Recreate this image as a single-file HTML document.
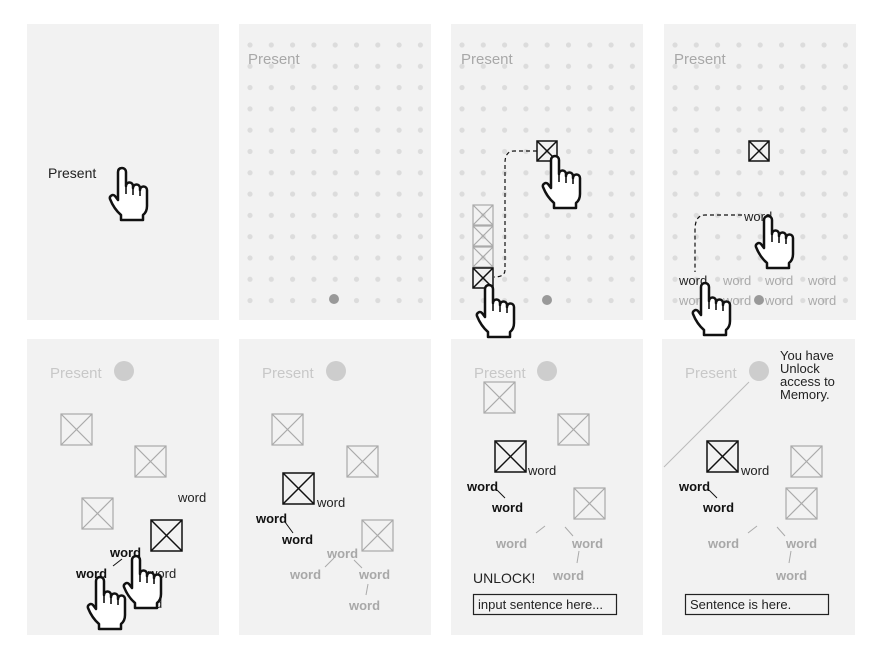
<!DOCTYPE html>
<html><head><meta charset="utf-8"><style>
html,body{margin:0;padding:0;background:#fff;}
svg{display:block;font-family:"Liberation Sans",sans-serif;}
.p{fill:#f2f2f2}
.gb{stroke:#aaa;stroke-width:1.2;fill:none}
.db{stroke:#111;stroke-width:1.5;fill:none}
.gw{fill:#a8a8a8;font-weight:bold;font-size:13px}
.bw{fill:#111;font-weight:bold;font-size:13px}
</style></head><body>
<svg width="880" height="660" viewBox="0 0 880 660">
<defs>
<pattern id="dots" x="0" y="0" width="21.3" height="21.3" patternUnits="userSpaceOnUse">
<circle cx="3" cy="3" r="2.6" fill="#dcdcdc"/></pattern>
<g id="hand"><path d="M-4,4 a4,4 0 0 1 8,0 V18 a3.5,3.5 0 0 1 7,0 V20 a3.5,3.5 0 0 1 7,0 V22 a3.5,3.5 0 0 1 7,0 V38 Q25,44 21,47 V52 H-1 V47 Q-8,41 -12,31 a3,3 0 0 1 5,-3 L-4,32 Z" fill="#fff" stroke="#111" stroke-width="2.5" stroke-linejoin="round"/>
<path d="M4,18 V26 M11,20 V27 M18,22 V28" stroke="#111" stroke-width="1.6" fill="none"/></g>
<g id="gbox" fill="none"><rect x="0" y="0" width="31" height="31" fill="none"/><line x1="0" y1="0" x2="31" y2="31"/><line x1="31" y1="0" x2="0" y2="31"/></g>
<g id="sbox" fill="none"><rect x="0" y="0" width="20" height="20" fill="none"/><line x1="0" y1="0" x2="20" y2="20"/><line x1="20" y1="0" x2="0" y2="20"/></g>
</defs>

<rect class="p" x="27" y="24" width="192" height="296"/>
<rect class="p" x="239" y="24" width="192" height="296"/>
<rect class="p" x="451" y="24" width="192" height="296"/>
<rect class="p" x="664" y="24" width="192" height="296"/>
<rect class="p" x="27" y="339" width="192" height="296"/>
<rect class="p" x="239" y="339" width="192" height="296"/>
<rect class="p" x="451" y="339" width="192" height="296"/>
<rect class="p" x="662" y="339" width="193" height="296"/>

<!-- Panel 1 -->
<text x="48" y="178" font-size="14" fill="#222">Present</text>
<circle cx="121" cy="171" r="4" fill="#111"/>
<use href="#hand" x="122" y="168"/>

<!-- Panel 2 -->
<g transform="translate(247,42)"><rect width="192" height="270" fill="url(#dots)"/></g>
<rect x="431" y="24" width="9" height="296" fill="#fff"/>
<text x="248" y="64" font-size="15" fill="#a8a8a8">Present</text>
<circle cx="334" cy="299" r="5" fill="#999"/>

<!-- Panel 3 -->
<g transform="translate(459,42)"><rect width="192" height="270" fill="url(#dots)"/></g>
<rect x="643" y="24" width="21" height="296" fill="#fff"/>
<text x="461" y="64" font-size="15" fill="#a8a8a8">Present</text>
<circle cx="547" cy="300" r="5" fill="#999"/>
<path d="M537,151 H514 Q505,151 505,163 V270 Q505,277 494,277" fill="none" stroke="#111" stroke-width="1.2" stroke-dasharray="4,3"/>
<g class="gb"><use href="#sbox" x="473" y="205"/><use href="#sbox" x="473" y="226"/><use href="#sbox" x="473" y="247"/></g>
<g class="db"><use href="#sbox" x="473" y="268"/><use href="#sbox" x="537" y="141"/></g>
<use href="#hand" x="555" y="156"/>
<use href="#hand" x="489" y="285"/>

<!-- Panel 4 -->
<g transform="translate(672,42)"><rect width="192" height="270" fill="url(#dots)"/></g>
<rect x="856" y="24" width="24" height="296" fill="#fff"/>
<text x="674" y="64" font-size="15" fill="#a8a8a8">Present</text>
<g class="db"><use href="#sbox" x="749" y="141"/></g>
<path d="M742,215 H705 Q695,215 695,230 V272" fill="none" stroke="#111" stroke-width="1.2" stroke-dasharray="4,3"/>
<text x="744" y="221" font-size="13" fill="#222">word</text>
<g font-size="13" fill="#aaa">
<text x="679" y="285" fill="#222">word</text><text x="723" y="285">word</text><text x="765" y="285">word</text><text x="808" y="285">word</text>
<text x="679" y="305">word</text><text x="723" y="305">word</text><text x="765" y="305">word</text><text x="808" y="305">word</text>
</g>
<circle cx="759" cy="300" r="5" fill="#999"/>
<use href="#hand" x="768" y="216"/>
<use href="#hand" x="705" y="283"/>

<!-- Row 2 Panel 1 -->
<text x="50" y="378" font-size="15" fill="#c8c8c8">Present</text>
<circle cx="124" cy="371" r="10" fill="#cdcdcd"/>
<g class="gb"><use href="#gbox" x="61" y="414"/><use href="#gbox" x="135" y="446"/><use href="#gbox" x="82" y="498"/></g>
<g class="db"><use href="#gbox" x="151" y="520"/></g>
<text x="178" y="502" font-size="13" fill="#222">word</text>
<text x="148" y="578" font-size="13" fill="#222">word</text>
<text x="134" y="608" font-size="13" fill="#222">word</text>
<text x="110" y="557" class="bw">word</text>
<text x="76" y="578" class="bw">word</text>
<line x1="113" y1="566" x2="122" y2="559" stroke="#111"/>
<use href="#hand" x="136" y="556"/>
<use href="#hand" x="100" y="577"/>

<!-- Row 2 Panel 2 -->
<text x="262" y="378" font-size="15" fill="#c8c8c8">Present</text>
<circle cx="336" cy="371" r="10" fill="#cdcdcd"/>
<g class="gb"><use href="#gbox" x="272" y="414"/><use href="#gbox" x="347" y="446"/><use href="#gbox" x="362" y="520"/></g>
<g class="db"><use href="#gbox" x="283" y="473"/></g>
<text x="317" y="507" font-size="13" fill="#222">word</text>
<text x="256" y="523" class="bw">word</text>
<text x="282" y="544" class="bw">word</text>
<line x1="285" y1="522" x2="293" y2="533" stroke="#111"/>
<text x="327" y="558" class="gw">word</text>
<text x="290" y="579" class="gw">word</text>
<text x="359" y="579" class="gw">word</text>
<text x="349" y="610" class="gw">word</text>
<g stroke="#aaa"><line x1="334" y1="558" x2="325" y2="567"/><line x1="354" y1="560" x2="362" y2="568"/><line x1="368" y1="584" x2="366" y2="595"/></g>

<!-- Row 2 Panel 3 -->
<text x="474" y="378" font-size="15" fill="#c8c8c8">Present</text>
<circle cx="547" cy="371" r="10" fill="#cdcdcd"/>
<g class="gb"><use href="#gbox" x="484" y="382"/><use href="#gbox" x="558" y="414"/><use href="#gbox" x="574" y="488"/></g>
<g class="db"><use href="#gbox" x="495" y="441"/></g>
<text x="528" y="475" font-size="13" fill="#222">word</text>
<text x="467" y="491" class="bw">word</text>
<text x="492" y="512" class="bw">word</text>
<line x1="497" y1="490" x2="505" y2="498" stroke="#111"/>
<text x="496" y="548" class="gw">word</text>
<text x="572" y="548" class="gw">word</text>
<text x="553" y="580" class="gw">word</text>
<g stroke="#aaa"><line x1="536" y1="533" x2="545" y2="526"/><line x1="565" y1="527" x2="573" y2="536"/><line x1="579" y1="551" x2="577" y2="563"/></g>
<text x="473" y="583" font-size="14" fill="#222">UNLOCK!</text>
<rect x="473.5" y="594.5" width="143" height="20" fill="none" stroke="#222" stroke-width="1.2"/>
<text x="478" y="609" font-size="13" fill="#222">input sentence here...</text>

<!-- Row 2 Panel 4 -->
<text x="685" y="378" font-size="15" fill="#c8c8c8">Present</text>
<circle cx="759" cy="371" r="10" fill="#cdcdcd"/>
<line x1="749" y1="382" x2="664" y2="467" stroke="#bbb" stroke-width="1"/>
<g font-size="13" fill="#222"><text x="780" y="360">You have</text><text x="780" y="373">Unlock</text><text x="780" y="386">access to</text><text x="780" y="399">Memory.</text></g>
<g class="gb"><use href="#gbox" x="791" y="446"/><use href="#gbox" x="786" y="488"/></g>
<g class="db"><use href="#gbox" x="707" y="441"/></g>
<text x="741" y="475" font-size="13" fill="#222">word</text>
<text x="679" y="491" class="bw">word</text>
<text x="703" y="512" class="bw">word</text>
<line x1="709" y1="490" x2="717" y2="498" stroke="#111"/>
<text x="708" y="548" class="gw">word</text>
<text x="786" y="548" class="gw">word</text>
<text x="776" y="580" class="gw">word</text>
<g stroke="#aaa"><line x1="748" y1="533" x2="757" y2="526"/><line x1="777" y1="527" x2="785" y2="536"/><line x1="791" y1="551" x2="789" y2="563"/></g>
<rect x="685.5" y="594.5" width="143" height="20" fill="none" stroke="#222" stroke-width="1.2"/>
<text x="690" y="609" font-size="13" fill="#222">Sentence is here.</text>
</svg>
</body></html>
